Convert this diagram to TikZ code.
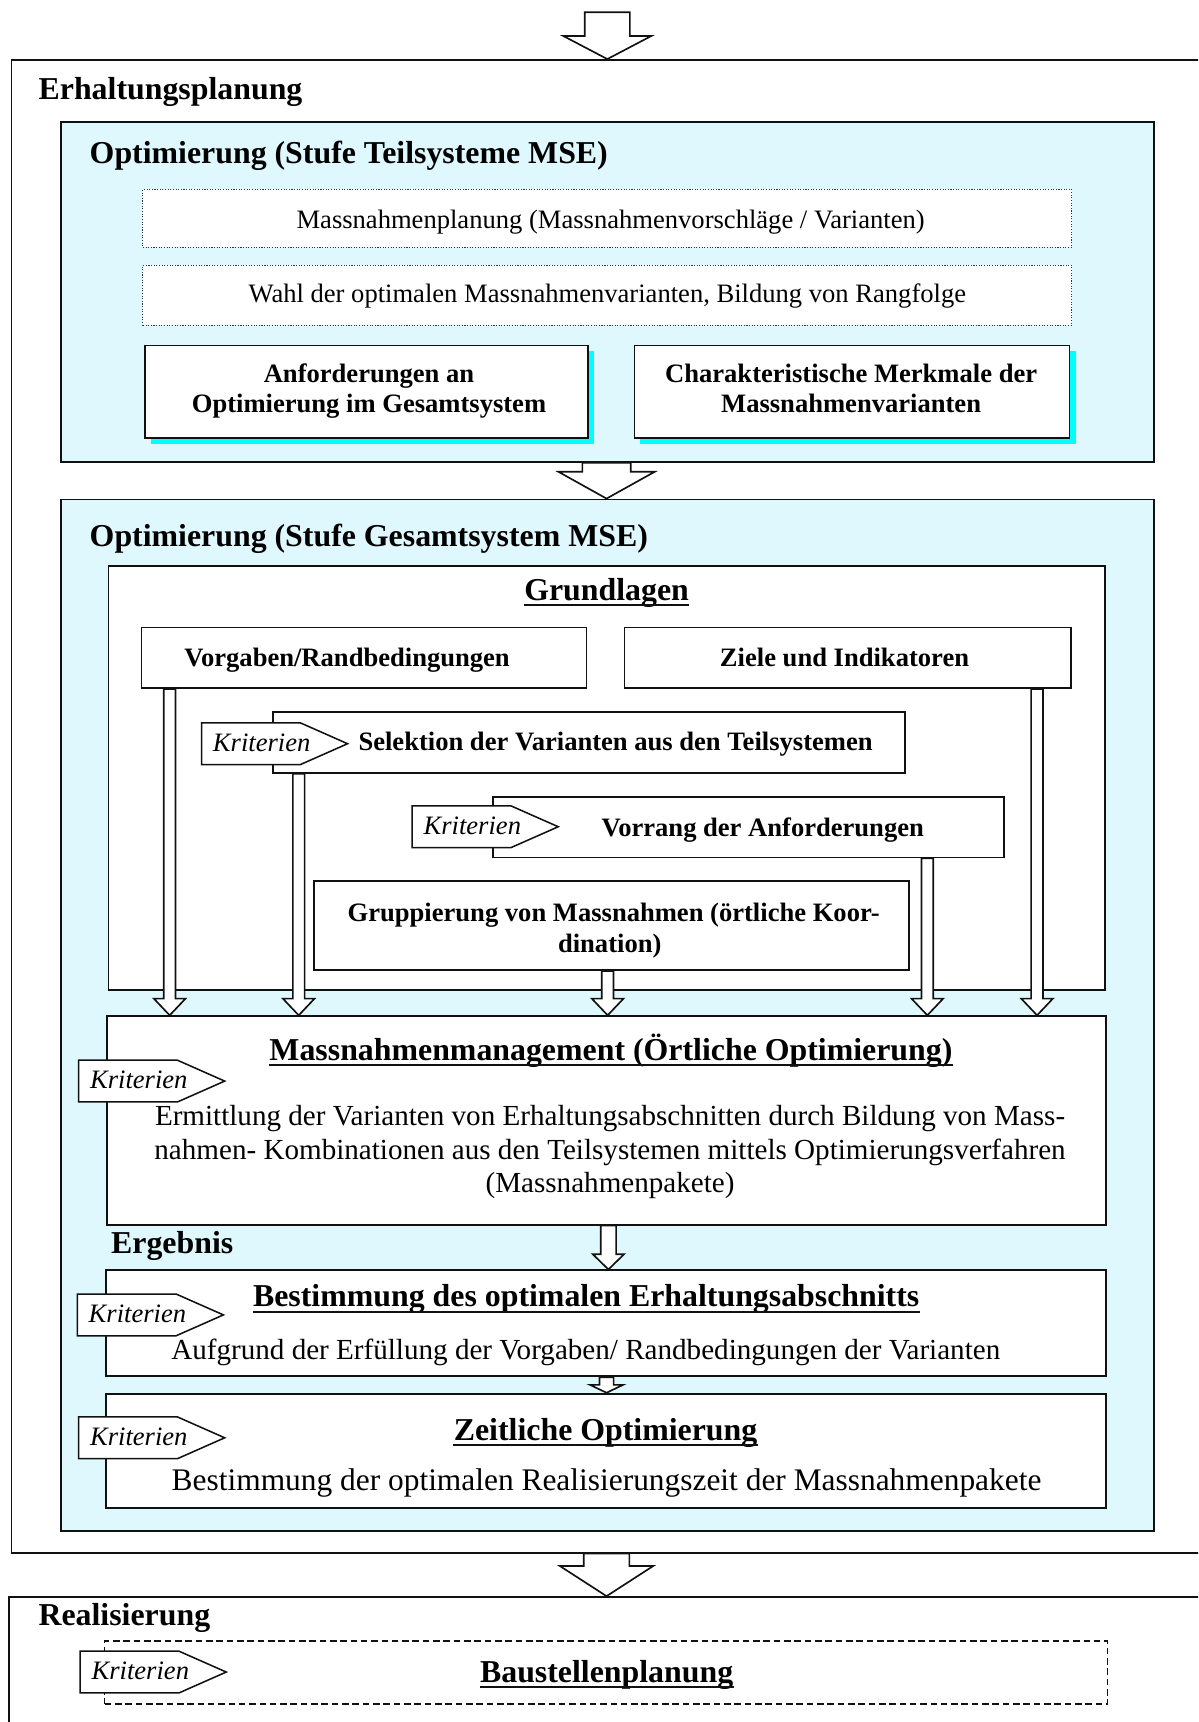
\documentclass[tikz,border=0pt]{standalone}
\usepackage{fontspec}
\setmainfont{Liberation Serif}
\usetikzlibrary{calc,fit}

\definecolor{paleblue}{RGB}{223,248,253}
\definecolor{shadowcyan}{RGB}{0,255,255}
\definecolor{ink}{RGB}{17,17,17}

% font sizes (one drawing unit = 0.5pt)
\newcommand\fsBig{\fontsize{14.5pt}{17pt}\selectfont}
\newcommand\fsSmall{\fontsize{12.1pt}{14pt}\selectfont}
\newcommand\fsMid{\fontsize{13.25pt}{15.25pt}\selectfont}
\newcommand\fsLarge{\fontsize{14.3pt}{16.5pt}\selectfont}

% hollow block arrow pointing down: start, tip, shaft half width, head half width, head length
\newcommand\harrow[5]{%
  \draw[harrowline] let \p1=(#1), \p2=(#2) in
    (\x1-#3,\y1) -- (\x1+#3,\y1) -- (\x1+#3,\y2+#5) -- (\x1+#4,\y2+#5)
    -- (\x1,\y2) -- (\x1-#4,\y2+#5) -- (\x1-#3,\y2+#5) -- cycle;}

% "Kriterien" tag: name, left x, top y
\newcommand\krit[3]{%
  \draw[tagshape] (#2,#3) -- ++(90,0) -- ++(43,19) -- ++(-43,19) -- ++(-90,0) -- cycle;
  \node[kritext] (#1) at ({#2+10},{#3+26}) {Kriterien};}

% underline below a text node
\newcommand\uln[1]{%
  \draw[ulline] ($(#1.base west)+(0,4.5)$) -- ($(#1.base east)+(0,4.5)$);}

\tikzset{
  box/.style={draw=ink, line width=0.8pt, fill=white, inner sep=0pt},
  bluebox/.style={box, fill=paleblue},
  framebox/.style={draw=ink, line width=0.8pt, inner sep=0pt},
  dotbox/.style={draw=ink!85, line width=0.45pt, dash pattern=on 0.5pt off 0.7pt, fill=white, inner sep=0pt},
  dashbox/.style={draw=ink, line width=0.55pt, dash pattern=on 3pt off 1.7pt, inner sep=0pt},
  txt/.style={inner sep=0pt, anchor=base},
  ltxt/.style={inner sep=0pt, anchor=base west},
  harrowline/.style={draw=ink, line width=0.75pt, fill=white, line join=miter},
  tagshape/.style={draw=ink, line width=0.7pt, fill=white, line join=miter},
  kritext/.style={inner sep=0pt, anchor=base west, font=\fsSmall\itshape},
  ulline/.style={draw=ink, line width=1pt},
  shadow/.style={fill=shadowcyan},
}

\begin{document}
\begin{tikzpicture}[x=0.5pt,y=-0.5pt]
\useasboundingbox (0,0) rectangle (1091,1568);
\clip (0,0) rectangle (1091,1568);
\fill[white] (0,0) rectangle (1091,1568);

% ---------- Erhaltungsplanung frame ----------
\node[framebox, fit={(10.5,54.6) (1120,1413.8)}] (erhbox) {};
\node[ltxt, font=\fsBig\bfseries] (erhtitle) at (34.8,91) {Erhaltungsplanung};

% ---------- Optimierung: Teilsysteme ----------
\node[bluebox, fit={(55.3,111.4) (1050.6,420.5)}] (teil) {};
\node[ltxt, font=\fsBig\bfseries] (teiltitle) at (81.3,148.8) {Optimierung (Stufe Teilsysteme MSE)};

\node[dotbox, fit={(130.1,172.4) (975.8,225.3)}] (planbox) {};
\node[txt, font=\fsSmall] (plan) at (556,208) {Massnahmenplanung (Massnahmenvorschläge / Varianten)};
\node[dotbox, fit={(130.1,241.6) (975.8,296.3)}] (wahlbox) {};
\node[txt, font=\fsSmall] (wahl) at (553,275.7) {Wahl der optimalen Massnahmenvarianten, Bildung von Rangfolge};

\fill[shadow] (137.6,320) rectangle (541,404.1);
\node[box, fit={(132.1,314.5) (535.4,398.6)}] (anf) {};
\node[txt, font=\fsSmall\bfseries] (anf1) at (336,348.3) {Anforderungen an};
\node[txt, font=\fsSmall\bfseries] (anf2) at (336,375.6) {Optimierung im Gesamtsystem};

\fill[shadow] (583.2,320) rectangle (979.5,404.1);
\node[box, fit={(577.7,314.5) (973.9,398.6)}] (cha) {};
\node[txt, font=\fsSmall\bfseries] (cha1) at (775,348.3) {Charakteristische Merkmale der};
\node[txt, font=\fsSmall\bfseries] (cha2) at (775,375.6) {Massnahmenvarianten};

% ---------- Optimierung: Gesamtsystem ----------
\node[bluebox, fit={(55.3,454.8) (1050.6,1394.1)}] (ges) {};
\node[ltxt, font=\fsBig\bfseries] (gestitle) at (81.3,498) {Optimierung (Stufe Gesamtsystem MSE)};

\node[box, fit={(98.9,515.5) (1006.4,901.6)}] (grund) {};
\node[txt, font=\fsBig\bfseries] (grundtitle) at (552.3,546.4) {Grundlagen};
\uln{grundtitle}

\node[box, fit={(128.8,571.3) (534.1,626.6)}] (vorg) {};
\node[txt, font=\fsSmall\bfseries] (vorgtext) at (316,607.2) {Vorgaben/Randbedingungen};
\node[box, fit={(568.6,571.3) (975.1,626.6)}] (ziel) {};
\node[txt, font=\fsSmall\bfseries] (zieltext) at (769,607.2) {Ziele und Indikatoren};

\node[box, fit={(248.5,648.5) (824.2,703.7)}] (sel) {};
\node[txt, font=\fsSmall\bfseries] (seltext) at (560.5,683) {Selektion der Varianten aus den Teilsystemen};

\node[box, fit={(449,725.6) (914,780.8)}] (vor) {};
\node[txt, font=\fsSmall\bfseries] (vortext) at (694.5,761.4) {Vorrang der Anforderungen};

\node[box, fit={(286.2,802.1) (827.5,883.4)}] (grp) {};
\node[txt, font=\fsSmall\bfseries] (grp1) at (558.8,839.4) {Gruppierung von Massnahmen (örtliche Koor-};
\node[txt, font=\fsSmall\bfseries] (grp2) at (555.2,867.7) {dination)};

\node[box, fit={(97.6,925.3) (1007,1115.1)}] (mm) {};
\node[txt, font=\fsBig\bfseries] (mmtitle) at (556.3,965.4) {Massnahmenmanagement (Örtliche Optimierung)};
\uln{mmtitle}
\node[txt, font=\fsMid] (mm1) at (555.5,1024.8) {Ermittlung der Varianten von Erhaltungsabschnitten durch Bildung von Mass-};
\node[txt, font=\fsMid] (mm2) at (555.5,1055.6) {nahmen- Kombinationen aus den Teilsystemen mittels Optimierungsverfahren};
\node[txt, font=\fsMid] (mm3) at (555.5,1085.6) {(Massnahmenpakete)};

\node[ltxt, font=\fsBig\bfseries] (erg) at (100.8,1141.5) {Ergebnis};

\node[box, fit={(96.3,1156.7) (1007,1253.2)}] (best) {};
\node[txt, font=\fsBig\bfseries] (besttitle) at (533.8,1190) {Bestimmung des optimalen Erhaltungsabschnitts};
\uln{besttitle}
\node[txt, font=\fsMid] (besttext) at (533.4,1237.7) {Aufgrund der Erfüllung der Vorgaben/ Randbedingungen der Varianten};

\node[box, fit={(96.3,1269) (1007,1373.1)}] (zeit) {};
\node[txt, font=\fsBig\bfseries] (zeittitle) at (551.4,1311.5) {Zeitliche Optimierung};
\uln{zeittitle}
\node[txt, font=\fsLarge] (zeittext) at (552.3,1357.6) {Bestimmung der optimalen Realisierungszeit der Massnahmenpakete};

% ---------- Realisierung ----------
\node[framebox, fit={(8.4,1454.2) (1120,1620)}] (real) {};
\node[ltxt, font=\fsBig\bfseries] (realtitle) at (34.7,1480) {Realisierung};
\node[dashbox, fit={(95.3,1494.3) (1008.8,1551.6)}] (bau) {};
\node[txt, font=\fsBig\bfseries] (bautitle) at (552.4,1531.6) {Baustellenplanung};
\uln{bautitle}

% ---------- Kriterien tags ----------
\krit{k1}{183.5}{658.2}
\krit{k2}{375.3}{733.8}
\krit{k3}{71.6}{965.4}
\krit{k4}{70.4}{1178.3}
\krit{k5}{71.6}{1290.2}
\krit{k6}{73}{1503.5}

% ---------- block arrows ----------
\coordinate (topin) at (553,11.2);
\harrow{topin}{erhbox.north -| topin}{10.25pt}{20pt}{10.5pt}
\coordinate (xmid) at (552.3,0);
\harrow{teil.south -| xmid}{ges.north -| xmid}{11pt}{21.9pt}{12.2pt}
\harrow{erhbox.south -| xmid}{real.north -| xmid}{10.4pt}{21.2pt}{13.7pt}

\coordinate (xa) at (154.5,0);
\coordinate (xb) at (272,0);
\coordinate (xc) at (553.3,0);
\coordinate (xd) at (844.4,0);
\coordinate (xe) at (944.3,0);
\harrow{vorg.south -| xa}{mm.north -| xa}{2.68pt}{7.2pt}{7.6pt}
\harrow{sel.south -| xb}{mm.north -| xb}{2.68pt}{7.2pt}{7.6pt}
\harrow{grp.south -| xc}{mm.north -| xc}{2.68pt}{7.2pt}{7.6pt}
\harrow{vor.south -| xd}{mm.north -| xd}{2.68pt}{7.2pt}{7.6pt}
\harrow{ziel.south -| xe}{mm.north -| xe}{2.68pt}{7.2pt}{7.6pt}

\coordinate (xf) at (554,0);
\harrow{mm.south -| xf}{best.north -| xf}{3.5pt}{7.1pt}{6.9pt}
\harrow{best.south -| xmid}{zeit.north -| xmid}{3.2pt}{7.5pt}{3.6pt}
\end{tikzpicture}
\end{document}
